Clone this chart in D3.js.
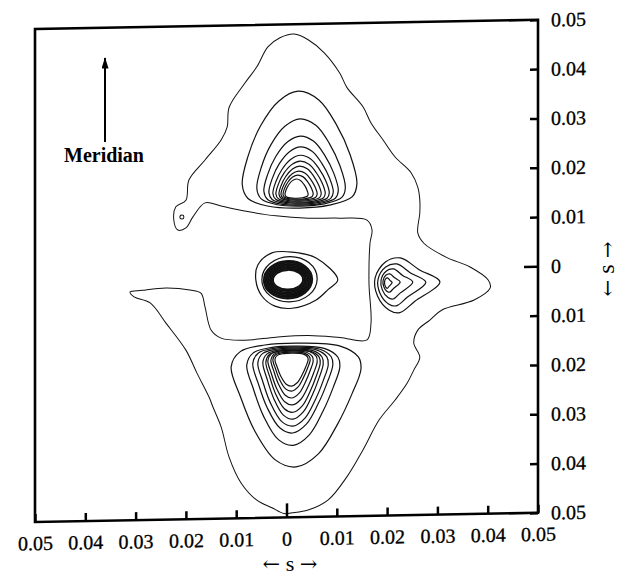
<!DOCTYPE html>
<html>
<head>
<meta charset="utf-8">
<script src="https://cdn.jsdelivr.net/npm/d3@7"></script>
<style>
  body { margin: 0; background: #fff; }
  text { font-family: "Liberation Serif", "Times New Roman", serif; }
</style>
</head>
<body>
<div id="chart"></div>
<script>

// tick values (s) and the printed labels (no sign on either side of 0)
let tickValues = [-0.05, -0.04, -0.03, -0.02, -0.01, 0, 0.01, 0.02, 0.03, 0.04, 0.05]
let tickLabels = ["0.05", "0.04", "0.03", "0.02", "0.01", "0", "0.01", "0.02", "0.03", "0.04", "0.05"]

// lowest contour level, [s_x, s_y]
let outerContour = [
  [0.0015,0.0480],[0.0043,0.0468],[0.0075,0.0441],[0.0106,0.0399],[0.0120,0.0370],[0.0152,0.0330],
  [0.0168,0.0297],[0.0192,0.0262],[0.0216,0.0227],[0.0248,0.0194],[0.0261,0.0165],[0.0265,0.0139],
  [0.0265,0.0112],[0.0261,0.0072],[0.0273,0.0051],[0.0317,0.0022],[0.0365,0.0001],[0.0401,-0.0026],
  [0.0405,-0.0042],[0.0373,-0.0066],[0.0309,-0.0085],[0.0285,-0.0105],[0.0261,-0.0125],[0.0253,-0.0151],
  [0.0265,-0.0180],[0.0253,-0.0206],[0.0240,-0.0232],[0.0216,-0.0266],[0.0184,-0.0306],[0.0152,-0.0366],
  [0.0120,-0.0420],[0.0083,-0.0466],[0.0043,-0.0486],[0.0011,-0.0491],[-0.0005,-0.0492],[-0.0029,-0.0480],
  [-0.0059,-0.0464],[-0.0090,-0.0429],[-0.0114,-0.0376],[-0.0130,-0.0314],[-0.0146,-0.0274],[-0.0154,-0.0253],
  [-0.0178,-0.0204],[-0.0200,-0.0157],[-0.0240,-0.0101],[-0.0271,-0.0060],[-0.0303,-0.0047],[-0.0311,-0.0037],
  [-0.0287,-0.0034],[-0.0240,-0.0030],[-0.0192,-0.0035],[-0.0170,-0.0042],[-0.0162,-0.0070],[-0.0150,-0.0117],
  [-0.0130,-0.0134],[-0.0083,-0.0139],[-0.0021,-0.0134],[0.0043,-0.0132],[0.0106,-0.0137],[0.0160,-0.0143],
  [0.0168,-0.0109],[0.0164,-0.0028],[0.0166,0.0053],[0.0170,0.0080],[0.0160,0.0100],[0.0106,0.0105],
  [0.0043,0.0106],[-0.0021,0.0112],[-0.0083,0.0123],[-0.0130,0.0134],[-0.0162,0.0141],[-0.0186,0.0113],
  [-0.0200,0.0091],[-0.0216,0.0087],[-0.0224,0.0107],[-0.0220,0.0134],[-0.0200,0.0147],[-0.0194,0.0188],
  [-0.0162,0.0228],[-0.0130,0.0268],[-0.0118,0.0294],[-0.0114,0.0334],[-0.0083,0.0382],[-0.0059,0.0415],
  [-0.0037,0.0455],[-0.0013,0.0473]
]

// little closed loop on the left of the outer contour: [cx, cy, r]
let smallLoop = [-0.0208, 0.0113, 0.0004]

// ring outlines as fractions of their box (u across, v down), read from the outer ring of each peak
let upperShape = [[0.49,0],[0.67,0.08],[0.82,0.29],[0.94,0.55],[1,0.80],[0.96,0.91],[0.76,0.98],
                  [0.50,1],[0.23,0.98],[0.05,0.91],[0,0.79],[0.05,0.55],[0.16,0.29],[0.32,0.08]]
let lowerShape = [[0.53,0],[0.84,0.03],[0.98,0.12],[1,0.22],[0.93,0.42],[0.82,0.66],[0.67,0.90],
                  [0.50,1],[0.34,0.94],[0.18,0.70],[0.07,0.42],[0,0.18],[0.07,0.06],[0.26,0.01]]
let equatorShape = [[1,0.45],[0.68,0.22],[0.39,0],[0.16,0.07],[0,0.36],[0.04,0.69],[0.22,0.95],
                    [0.38,1],[0.61,0.8]]

// ring boxes [left, right, top, bottom] in s
let upperRings = [
  [-0.0088, 0.0140, 0.0364, 0.0127], [-0.0059, 0.0117, 0.0308, 0.0131], [-0.0045, 0.0103, 0.0273, 0.0133],
  [-0.0035, 0.0093, 0.0251, 0.0135], [-0.0027, 0.0085, 0.0234, 0.0137], [-0.0021, 0.0077, 0.0222, 0.0139],
  [-0.0015, 0.0069, 0.0212, 0.0141], [-0.0011, 0.0061, 0.0202, 0.0143], [-0.0007, 0.0053, 0.0194, 0.0145],
  [-0.0003, 0.0043, 0.0186, 0.0147]
]
let lowerRings = [
  [-0.0110, 0.0148, -0.0147, -0.0398], [-0.0079, 0.0106, -0.0153, -0.0354], [-0.0067, 0.0092, -0.0155, -0.0329],
  [-0.0057, 0.0083, -0.0157, -0.0315], [-0.0047, 0.0073, -0.0159, -0.0301], [-0.0041, 0.0067, -0.0161, -0.0287],
  [-0.0037, 0.0061, -0.0161, -0.0272], [-0.0031, 0.0053, -0.0163, -0.0258], [-0.0027, 0.0047, -0.0165, -0.0244],
  [-0.0023, 0.0043, -0.0167, -0.0234]
]
let equatorRings = [
  [0.0176, 0.0305, 0.0022, -0.0089], [0.0182, 0.0277, 0.0010, -0.0075], [0.0188, 0.0251, 0.0000, -0.0061],
  [0.0192, 0.0226, -0.0010, -0.0047], [0.0195, 0.0210, -0.0018, -0.0039]
]

// central reflection: tear-drop contour, then ellipses [cx, cy, rx, ry]
let centreDrop = [[0.0102,-0.0020],[0.0059,0.0025],[0.0011,0.0038],[-0.0029,0.0037],[-0.0057,0.0013],
                  [-0.0061,-0.0017],[-0.0049,-0.0050],[-0.0023,-0.0071],[0.0011,-0.0076],[0.0059,-0.0060],
                  [0.0083,-0.0039]]
let centreRings = [
  [0.0006, -0.0017, 0.0055, 0.0046],
  [0.0003, -0.0018, 0.0048, 0.0038], [0.0003, -0.0018, 0.0045, 0.0035], [0.0003, -0.0018, 0.0042, 0.0032],
  [0.0003, -0.0018, 0.0039, 0.0029], [0.0003, -0.0018, 0.0036, 0.0026], [0.0003, -0.0018, 0.0033, 0.0023],
  [0.0003, -0.0018, 0.0030, 0.0020]
]

let width = 619, height = 578
let plotW = 503, plotH = 493

let svg = d3.select("#chart")
  .append("svg")
    .attr("width", width)
    .attr("height", height)

// the scan is slightly sheared, horizontals drop to the left
let g = svg.append("g")
    .attr("transform", "translate(35,29) skewY(-1.05)")

let x = d3.scaleLinear().domain([-0.05, 0.05]).range([0, plotW])
let y = d3.scaleLinear().domain([-0.05, 0.05]).range([plotH, 0])

let line = d3.line()
  .x(function(d) { return x(d[0]) })
  .y(function(d) { return y(d[1]) })
  .curve(d3.curveCatmullRomClosed.alpha(0.5))

function ringPoints(box, shape) {
  return shape.map(function(p) {
    return [box[0] + p[0] * (box[1] - box[0]), box[2] + p[1] * (box[3] - box[2])]
  })
}

let contours = g.append("g")
    .attr("fill", "none")
    .attr("stroke", "#111")

contours.append("path")
    .attr("d", line(outerContour))
    .attr("stroke-width", 1)

contours.append("circle")
    .attr("cx", x(smallLoop[0]))
    .attr("cy", y(smallLoop[1]))
    .attr("r", x(smallLoop[2]) - x(0))
    .attr("stroke-width", 1)

contours.selectAll("path.upper")
  .data(upperRings)
  .enter().append("path")
    .attr("class", "upper")
    .attr("d", function(d) { return line(ringPoints(d, upperShape)) })
    .attr("stroke-width", 1.2)

contours.selectAll("path.lower")
  .data(lowerRings)
  .enter().append("path")
    .attr("class", "lower")
    .attr("d", function(d) { return line(ringPoints(d, lowerShape)) })
    .attr("stroke-width", 1.2)

contours.selectAll("path.equator")
  .data(equatorRings)
  .enter().append("path")
    .attr("class", "equator")
    .attr("d", function(d) { return line(ringPoints(d, equatorShape)) })
    .attr("stroke-width", 1.2)

contours.append("path")
    .attr("d", line(centreDrop))
    .attr("stroke-width", 1.2)

contours.selectAll("ellipse")
  .data(centreRings)
  .enter().append("ellipse")
    .attr("cx", function(d) { return x(d[0]) })
    .attr("cy", function(d) { return y(d[1]) })
    .attr("rx", function(d) { return x(d[0] + d[2]) - x(d[0]) })
    .attr("ry", function(d) { return y(d[1] - d[3]) - y(d[1]) })
    .attr("stroke-width", function(d, i) { return i == 0 ? 1.2 : 2 })

// axes: inward ticks, longer at zero
let xAxis = d3.axisBottom(x)
  .tickValues(tickValues)
  .tickSize(-8)
  .tickPadding(14)
  .tickFormat(function(d, i) { return tickLabels[i] })

let yAxis = d3.axisRight(y)
  .tickValues(tickValues)
  .tickSize(-8)
  .tickPadding(13)
  .tickFormat(function(d, i) { return tickLabels[i] })

let gx = g.append("g")
    .attr("transform", "translate(0," + plotH + ")")
    .call(xAxis)
let gy = g.append("g")
    .attr("transform", "translate(" + plotW + ",0)")
    .call(yAxis)

;[gx, gy].forEach(function(a) {
  a.select(".domain").remove()
  a.selectAll(".tick line").attr("stroke", "#000").attr("stroke-width", 2.5)
  a.selectAll(".tick text")
    .attr("fill", "#000")
    .attr("stroke", "#000")
    .attr("stroke-width", 0.3)
    .style("font-size", "20px")
    .style("font-family", "'Liberation Serif', serif")
})
gx.selectAll(".tick line").filter(function(d) { return d === 0 }).attr("y2", -14)
gy.selectAll(".tick line").filter(function(d) { return d === 0 }).attr("x2", -14)
gy.selectAll(".tick text").attr("text-anchor", "start")

g.append("rect")
    .attr("width", plotW)
    .attr("height", plotH)
    .attr("fill", "none")
    .attr("stroke", "#000")
    .attr("stroke-width", 2.6)

// axis titles: long arrows either side of s
function sTitle(sel, size, sSize) {
  sel.append("tspan").style("font-family", "'DejaVu Serif', serif").style("font-size", size + "px").text("\u2190")
  sel.append("tspan").style("font-size", sSize + "px").text(" s ")
  sel.append("tspan").style("font-family", "'DejaVu Serif', serif").style("font-size", size + "px").text("\u2192")
}

svg.append("text")
    .attr("x", 290)
    .attr("y", 571)
    .attr("text-anchor", "middle")
    .call(sTitle, 21, 22)

svg.append("text")
    .attr("transform", "translate(614,269) rotate(-90)")
    .attr("text-anchor", "middle")
    .call(sTitle, 20, 24)

// meridian marker
svg.append("defs").append("marker")
    .attr("id", "head")
    .attr("viewBox", "0 0 10 16")
    .attr("refX", 5).attr("refY", 1)
    .attr("markerUnits", "userSpaceOnUse")
    .attr("markerWidth", 7).attr("markerHeight", 12)
    .attr("orient", "0")
  .append("path")
    .attr("d", "M5,0 L10,16 L0,16 Z")
    .attr("fill", "#000")

svg.append("line")
    .attr("x1", 105).attr("y1", 142)
    .attr("x2", 105).attr("y2", 58)
    .attr("stroke", "#000")
    .attr("stroke-width", 2)
    .attr("marker-end", "url(#head)")

svg.append("text")
    .attr("x", 64)
    .attr("y", 162)
    .style("font-size", "20px")
    .style("font-weight", "bold")
    .text("Meridian")

</script>
</body>
</html>
